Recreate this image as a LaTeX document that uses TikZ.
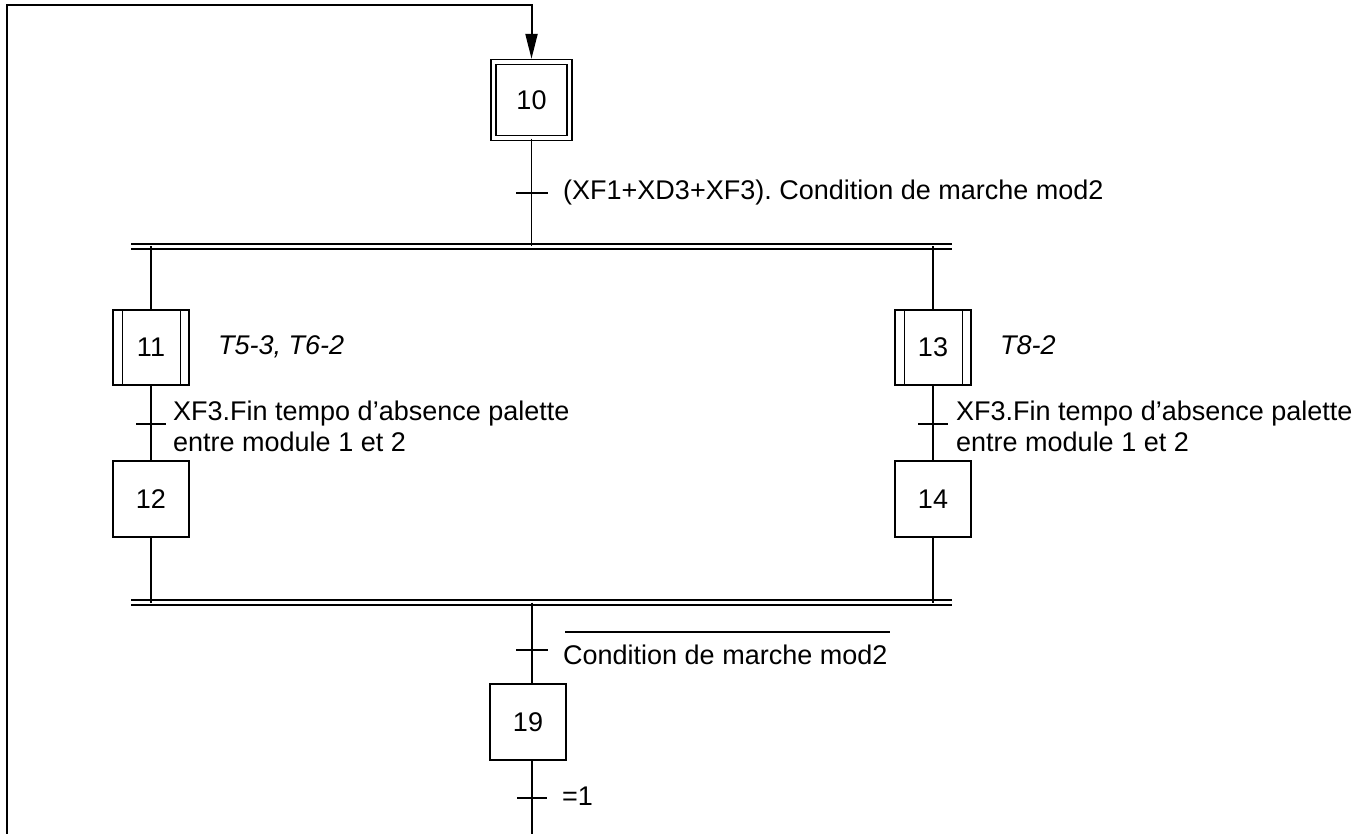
\documentclass[tikz,border=0pt]{standalone}
\usepackage{fontspec}
\setmainfont{Liberation Sans}
\usetikzlibrary{arrows.meta}
\frenchspacing
\begin{document}
\begin{tikzpicture}[x=1pt,y=-1pt,
  conn/.style={line width=1.3pt},
  stepbox/.style={draw, line width=1.3pt, minimum width=76pt, minimum height=76pt, inner sep=0pt, font=\fontsize{27}{31}\selectfont},
  initstep/.style={stepbox, double, double distance=3.7pt},
  tick/.style={line width=2pt},
  bar/.style={line width=1.8pt},
  lbl/.style={anchor=base west, inner sep=0pt, font=\fontsize{27}{31}\selectfont},
  act/.style={anchor=base west, inner sep=0pt, font=\fontsize{27}{31}\selectfont\itshape},
  loopline/.style={line width=2pt},
]
\useasboundingbox (0,0) rectangle (1367,834);

% steps
\node[initstep] (s10) at (531.5,100) {10};
\node[stepbox, minimum height=75pt] (s11) at (151,347.5) {11};
\node[stepbox, minimum height=75pt] (s13) at (933,347.5) {13};
\node[stepbox] (s12) at (151,499) {12};
\node[stepbox] (s14) at (933,499) {14};
\node[stepbox] (s19) at (528,722) {19};

% macro-step side bars
\foreach \s in {s11,s13}{
  \draw[conn] ([xshift=10pt]\s.north west) -- ([xshift=10pt]\s.south west);
  \draw[conn] ([xshift=-9pt]\s.north east) -- ([xshift=-9pt]\s.south east);
}

% actions
\node[act] (a11) at (218,354) {T5-3, T6-2};
\node[act] (a13) at (1000,354) {T8-2};

% bars
\coordinate (b1L) at (131,246.5);
\coordinate (b1R) at (952,246.5);
\coordinate (b2L) at (131,602.5);
\coordinate (b2R) at (952,602.5);
\draw[bar] ([yshift=2.5pt]b1L) -- ([yshift=2.5pt]b1R);
\draw[bar] ([yshift=-2.5pt]b1L) -- ([yshift=-2.5pt]b1R);
\draw[bar] ([yshift=2.5pt]b2L) -- ([yshift=2.5pt]b2R);
\draw[bar] ([yshift=-2.5pt]b2L) -- ([yshift=-2.5pt]b2R);

% transition 10 -> bar
\draw[conn] (s10.south) -- (s10.south |- b1L);
\coordinate (t1) at (532,193);
\draw[tick] ([xshift=-16pt]t1) -- ([xshift=16pt]t1);
\node[lbl] (l1) at (563,200) {(XF1+XD3+XF3). Condition de marche mod2};

% left branch
\draw[conn] (s11.north |- b1L) -- (s11.north);
\draw[conn] (s11.south) -- (s12.north);
\coordinate (t2) at (151,424);
\draw[tick] ([xshift=-15pt]t2) -- ([xshift=15pt]t2);
\node[lbl] (l2) at (173,420) {\begin{tabular}[t]{@{}l@{}}XF3.Fin tempo d’absence palette\\entre module 1 et 2\end{tabular}};
\draw[conn] (s12.south) -- (s12.south |- b2L);

% right branch
\draw[conn] (s13.north |- b1L) -- (s13.north);
\draw[conn] (s13.south) -- (s14.north);
\coordinate (t3) at (933,424);
\draw[tick] ([xshift=-15pt]t3) -- ([xshift=15pt]t3);
\node[lbl] (l3) at (956,420) {\begin{tabular}[t]{@{}l@{}}XF3.Fin tempo d’absence palette\\entre module 1 et 2\end{tabular}};
\draw[conn] (s14.south) -- (s14.south |- b2L);

% bar -> 19
\coordinate (j2) at (532,602.5);
\draw[conn] (j2) -- (j2 |- s19.north);
\coordinate (t4) at (532,650);
\draw[tick] ([xshift=-16pt]t4) -- ([xshift=16pt]t4);
\node[lbl] (l4) at (563,664) {Condition de marche mod2};
\draw[conn] ([xshift=2pt,yshift=32pt]l4.base west) -- ([xshift=2pt,yshift=32pt]l4.base east);

% 19 -> down
\coordinate (end) at (532,834);
\draw[conn] (j2 |- s19.south) -- (end);
\coordinate (t5) at (532,798);
\draw[tick] ([xshift=-15pt]t5) -- ([xshift=15pt]t5);
\node[lbl] (l5) at (562,805) {=1};

% loop back
\coordinate (loopB) at (7,834);
\coordinate (loopT) at (7,5);
\draw[loopline, -{Triangle[length=25pt,width=12pt]}, shorten >=2.5pt] (loopB) -- (loopT) -| (s10.north);
\end{tikzpicture}
\end{document}
